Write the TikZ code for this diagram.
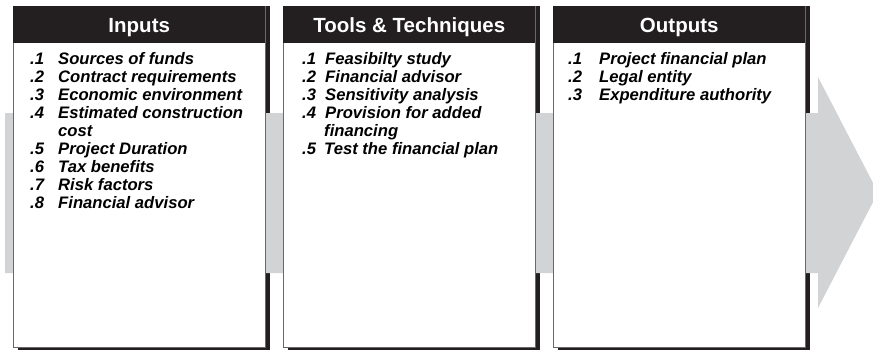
\documentclass[tikz,border=0pt]{standalone}
\usepackage{fontspec}
\setmainfont{Liberation Sans}
\usepackage{xcolor}
\usepackage{tikz}
\usetikzlibrary{positioning, calc}
\definecolor{mydark}{RGB}{35,31,32}
\definecolor{myframe}{RGB}{105,105,105}
\definecolor{mygray}{RGB}{209,211,212}
\newcommand{\inum}[2]{\makebox[#1][l]{#2}}
\tikzset{
  shadowbox/.style={rectangle, fill=mydark, minimum width=7.56cm,
    minimum height=10.32cm, inner sep=0pt},
  procbox/.style={rectangle, draw=myframe, fill=white, minimum width=7.56cm,
    minimum height=10.23cm, inner sep=0pt, line width=0.8pt},
  hdrbox/.style={rectangle, fill=mydark, text=white, minimum width=7.56cm,
    minimum height=1.11cm, inner sep=0pt, text height=12.6pt, text depth=0pt,
    font=\fontsize{17.5}{20}\selectfont\bfseries},
  itemlist/.style={align=left, inner sep=0pt,
    font=\fontsize{14.2}{15.4}\selectfont\bfseries\itshape},
  bigarrow/.style={fill=mygray, draw=none}
}

\begin{document}
\begin{tikzpicture}[x=0.03cm, y=0.03cm]
  \clip (0,0) rectangle (873,350);

  % Shadows
  \node[shadowbox, anchor=north west] (inshadow) at (18,344) {};
  \node[shadowbox, anchor=north west] (ttshadow) at (288,344) {};
  \node[shadowbox, anchor=north west] (outshadow) at (558,344) {};

  % Process arrow
  \fill[bigarrow] (5,237) -- (818,237) -- (818,273) -- (878,157.5)
    -- (818,42) -- (818,77) -- (5,77) -- cycle;

  % Boxes
  \node[procbox, anchor=north west] (inputs) at (13,344) {};
  \node[procbox, anchor=north west] (tools) at (283,344) {};
  \node[procbox, anchor=north west] (outputs) at (553,344) {};

  % Headers
  \node[hdrbox, anchor=north west] (inhdr) at (inputs.north west) {Inputs};
  \node[hdrbox, anchor=north west] (tthdr) at (tools.north west) {Tools \& Techniques};
  \node[hdrbox, anchor=north west] (outhdr) at (outputs.north west) {Outputs};

  % Lists
  \node[itemlist, anchor=north west] (inlist) at ($(inputs.north west)+(17,-46)$) {%
    \inum{0.84cm}{.1}Sources of funds\\
    \inum{0.84cm}{.2}Contract requirements\\
    \inum{0.84cm}{.3}Economic environment\\
    \inum{0.84cm}{.4}Estimated construction\\
    \inum{0.84cm}{}cost\\
    \inum{0.84cm}{.5}Project Duration\\
    \inum{0.84cm}{.6}Tax benefits\\
    \inum{0.84cm}{.7}Risk factors\\
    \inum{0.84cm}{.8}Financial advisor};
  \node[itemlist, anchor=north west] (ttlist) at ($(tools.north west)+(19,-46)$) {%
    \inum{0.69cm}{.1}Feasibilty study\\
    \inum{0.69cm}{.2}Financial advisor\\
    \inum{0.69cm}{.3}Sensitivity analysis\\
    \inum{0.69cm}{.4}Provision for added\\
    \inum{0.66cm}{}financing\\
    \inum{0.66cm}{.5}Test the financial plan};
  \node[itemlist, anchor=north west] (outlist) at ($(outputs.north west)+(15,-46)$) {%
    \inum{0.93cm}{.1}Project financial plan\\
    \inum{0.93cm}{.2}Legal entity\\
    \inum{0.93cm}{.3}Expenditure authority};
\end{tikzpicture}
\end{document}
